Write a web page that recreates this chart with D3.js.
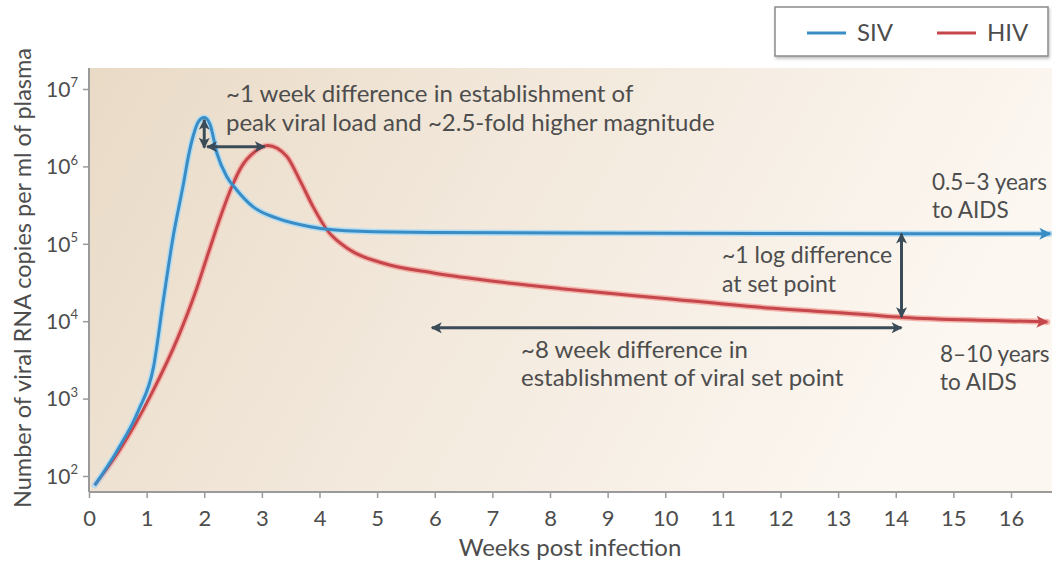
<!DOCTYPE html>
<html>
<head>
<meta charset="utf-8">
<script src="https://cdn.jsdelivr.net/npm/d3@7"></script>
<style>
  body { margin: 0; background: #fff; }
  text { font-family: Lato, "Open Sans", sans-serif; fill: #4d4d4d; }
</style>
</head>
<body>
<div id="chart"></div>
<script>
const width = 1052;
const height = 563;

// weeks post infection / viral RNA copies per ml
const sivWeeks = [0.1, 0.5, 0.86, 1.12, 1.29, 1.46, 1.64, 1.73, 1.81, 1.9, 2.0, 2.1, 2.22, 2.39, 2.56, 2.85, 3.26, 3.84, 4.7, 6.0, 8.35, 12, 16.68];
const sivCopies = [76, 219, 708, 2570, 1.86e4, 1.23e5, 6.0e5, 1.41e6, 2.51e6, 3.8e6, 4.27e6, 3.5e6, 1.48e6, 7.4e5, 5.0e5, 3.0e5, 2.14e5, 1.66e5, 1.45e5, 1.40e5, 1.38e5, 1.36e5, 1.35e5];

const hivWeeks = [0.1, 0.51, 1.09, 1.55, 1.84, 2.07, 2.3, 2.48, 2.65, 2.88, 3.1, 3.43, 3.66, 3.89, 4.13, 4.53, 5.11, 5.98, 6.85, 8.2, 9.9, 11.65, 13.4, 14.13, 15.7, 16.63];
const hivCopies = [76, 204, 1175, 6310, 2.29e4, 7.59e4, 2.45e5, 5.5e5, 1.0e6, 1.55e6, 1.86e6, 1.35e6, 6.6e5, 3.0e5, 1.51e5, 8.3e4, 5.6e4, 4.2e4, 3.4e4, 2.63e4, 2.0e4, 1.51e4, 1.23e4, 1.12e4, 1.02e4, 9.8e3];

const xTicks = d3.range(0, 17);
const yTicks = [1e2, 1e3, 1e4, 1e5, 1e6, 1e7];
const seriesNames = ["SIV", "HIV"];
const seriesColors = ["#3a8cc4", "#c6474b"];
const haloColors = ["#b3dcf2", "#f3b3aa"];

const svg = d3
  .select("#chart")
  .append("svg")
  .attr("width", width)
  .attr("height", height);

const x = d3.scaleLinear().domain([0, 16]).range([89, 1011]);
const y = d3.scaleLog().domain([1e2, 1e7]).range([476, 89]);

const plotTop = 68;
const plotBottom = 492;
const plotRight = width;

const defs = svg.append("defs");
const grad = defs
  .append("linearGradient")
  .attr("id", "bg")
  .attr("x1", 0).attr("y1", 0)
  .attr("x2", 1).attr("y2", 0.25);
grad.append("stop").attr("offset", 0).attr("stop-color", "#e9dac6");
grad.append("stop").attr("offset", 0.45).attr("stop-color", "#f2e8db");
grad.append("stop").attr("offset", 1).attr("stop-color", "#fcf7f1");

function marker(id, color, w, h) {
  defs
    .append("marker")
    .attr("id", id)
    .attr("viewBox", "0 0 10 10")
    .attr("refX", 9)
    .attr("refY", 5)
    .attr("markerUnits", "userSpaceOnUse")
    .attr("markerWidth", w)
    .attr("markerHeight", h)
    .attr("orient", "auto-start-reverse")
    .append("path")
    .attr("d", "M0,0 L10,5 L0,10 L2.5,5 z")
    .attr("fill", color);
}
marker("ah-dark", "#3b4c58", 12, 11);
marker("ah-siv", seriesColors[0], 14, 12);
marker("ah-hiv", seriesColors[1], 14, 12);

const shadow = defs.append("filter").attr("id", "shadow").attr("x", -0.1).attr("y", -0.2).attr("width", 1.2).attr("height", 1.5);
shadow.append("feDropShadow").attr("dx", 1).attr("dy", 2).attr("stdDeviation", 1.5).attr("flood-color", "#000").attr("flood-opacity", 0.25);

// background
svg
  .append("rect")
  .attr("x", x(0))
  .attr("y", plotTop)
  .attr("width", plotRight - x(0))
  .attr("height", plotBottom - plotTop)
  .attr("fill", "url(#bg)");

// axes
const xAxis = svg
  .append("g")
  .attr("transform", `translate(0,${plotBottom})`)
  .call(d3.axisBottom(x).tickValues(xTicks).tickSize(6).tickPadding(12).tickFormat(d3.format("d")));
xAxis.select(".domain").remove();
xAxis.selectAll("line").attr("stroke", "#9a9a9a").attr("stroke-width", 1.5);
xAxis
  .selectAll("text")
  .attr("font-size", 22)
  .attr("fill", "#555");

const yAxis = svg
  .append("g")
  .attr("transform", `translate(${x(0)},0)`)
  .call(d3.axisLeft(y).tickValues(yTicks).tickSize(6).tickFormat(""));
yAxis.select(".domain").remove();
yAxis.selectAll("line").attr("stroke", "#9a9a9a").attr("stroke-width", 1.5);
yAxis
  .selectAll(".tick")
  .append("text")
  .attr("x", -11)
  .attr("dy", "0.35em")
  .attr("text-anchor", "end")
  .attr("font-size", 21)
  .attr("fill", "#555")
  .each(function (d) {
    const t = d3.select(this);
    t.append("tspan").text("10");
    t.append("tspan")
      .attr("font-size", 13)
      .attr("dy", "-0.75em")
      .text(Math.round(Math.log10(d)));
  });

svg
  .append("line")
  .attr("x1", x(0)).attr("x2", x(0))
  .attr("y1", plotTop).attr("y2", plotBottom)
  .attr("stroke", "#9a9a9a").attr("stroke-width", 2);
svg
  .append("line")
  .attr("x1", x(0)).attr("x2", plotRight)
  .attr("y1", plotBottom).attr("y2", plotBottom)
  .attr("stroke", "#9a9a9a").attr("stroke-width", 2);

// axis titles
svg
  .append("text")
  .attr("x", 570)
  .attr("y", 556)
  .attr("text-anchor", "middle")
  .attr("font-size", 24)
  .attr("fill", "#555")
  .text("Weeks post infection");

svg
  .append("text")
  .attr("transform", "translate(31,278) rotate(-90)")
  .attr("text-anchor", "middle")
  .attr("font-size", 23.5)
  .attr("fill", "#555")
  .text("Number of viral RNA copies per ml of plasma");

// curves
const line = d3
  .line()
  .x((d) => x(d[0]))
  .y((d) => y(d[1]))
  .curve(d3.curveMonotoneX);

const series = [
  d3.zip(sivWeeks, sivCopies),
  d3.zip(hivWeeks, hivCopies),
];
const markers = ["url(#ah-siv)", "url(#ah-hiv)"];

// draw HIV under SIV on the left, like the figure
[1, 0].forEach((i) => {
  svg
    .append("path")
    .datum(series[i])
    .attr("d", line)
    .attr("fill", "none")
    .attr("stroke", haloColors[i])
    .attr("stroke-width", 6)
    .attr("stroke-linecap", "round");
});
[1, 0].forEach((i) => {
  svg
    .append("path")
    .datum(series[i])
    .attr("d", line)
    .attr("fill", "none")
    .attr("stroke", seriesColors[i])
    .attr("stroke-width", 3)
    .attr("marker-end", markers[i]);
});

// annotation arrows
const dark = "#3b4c58";
function dblArrow(x1, y1, x2, y2) {
  svg
    .append("line")
    .attr("x1", x1).attr("y1", y1)
    .attr("x2", x2).attr("y2", y2)
    .attr("stroke", dark)
    .attr("stroke-width", 3)
    .attr("marker-start", "url(#ah-dark)")
    .attr("marker-end", "url(#ah-dark)");
}
dblArrow(x(2.0), y(4.0e6), x(2.0), y(1.75e6));
dblArrow(x(2.05), y(1.8e6), x(3.05), y(1.8e6));
dblArrow(x(14.1), y(1.35e5), x(14.1), y(1.13e4));
dblArrow(x(5.95), y(8.2e3), x(14.1), y(8.2e3));

// annotation text
function label(lines, x0, y0, lh, size) {
  const t = svg
    .append("text")
    .attr("x", x0)
    .attr("y", y0)
    .attr("font-size", size)
    .attr("fill", "#4a4a4a");
  lines.forEach((l, i) => {
    t.append("tspan").attr("x", x0).attr("dy", i ? lh : 0).text(l);
  });
}
label(["~1 week difference in establishment of", "peak viral load and ~2.5-fold higher magnitude"], 226, 102, 29, 24);
label(["~1 log difference", "at set point"], 722, 263, 29, 23);
label(["~8 week difference in", "establishment of viral set point"], 521, 358, 28, 24);
label(["0.5–3 years", "to AIDS"], 932, 190, 28, 22.5);
label(["8–10 years", "to AIDS"], 940, 362, 28, 22.5);

// legend
const legend = svg.append("g");
legend
  .append("rect")
  .attr("x", 775)
  .attr("y", 7)
  .attr("width", 273)
  .attr("height", 49)
  .attr("fill", "#fff")
  .attr("stroke", "#8a8a8a")
  .attr("stroke-width", 1.5)
  .attr("filter", "url(#shadow)");
const legendX = [807, 937];
seriesNames.forEach((name, i) => {
  legend
    .append("line")
    .attr("x1", legendX[i]).attr("x2", legendX[i] + 39)
    .attr("y1", 33).attr("y2", 33)
    .attr("stroke", seriesColors[i])
    .attr("stroke-width", 3);
  legend
    .append("text")
    .attr("x", legendX[i] + 50)
    .attr("y", 33)
    .attr("dy", "0.35em")
    .attr("font-size", 24)
    .attr("fill", "#555")
    .text(name);
});
</script>
</body>
</html>
